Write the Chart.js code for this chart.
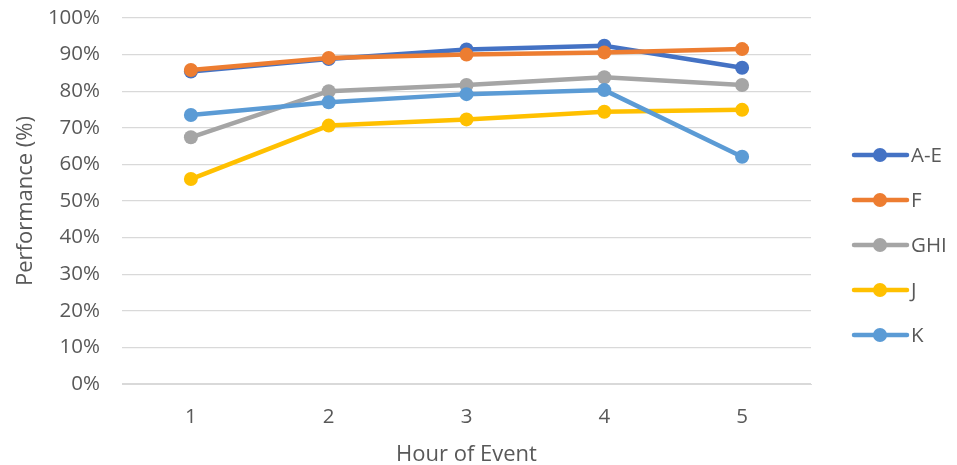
<!DOCTYPE html>
<html lang="en">
<head>
    <meta charset="UTF-8">
    <title>Performance by Hour</title>
    <script src="https://cdn.jsdelivr.net/npm/chart.js"></script>
    <style>
        html, body { margin: 0; padding: 0; background: #fff; }
        #wrap { width: 957px; height: 465px; }
    </style>
</head>
<body>
<div id="wrap"><canvas id="myChart" width="957" height="465"></canvas></div>
<script>
    const hours = ['1', '2', '3', '4', '5'];
    const seriesNames = ['A-E', 'F', 'GHI', 'J', 'K'];
    const seriesColors = ['#4472C4', '#ED7D31', '#A5A5A5', '#FFC000', '#5B9BD5'];
    const aeValues = [85.4, 88.8, 91.4, 92.4, 86.4];
    const fValues = [85.8, 89.1, 90.0, 90.6, 91.5];
    const ghiValues = [67.4, 80.0, 81.7, 83.8, 81.7];
    const jValues = [56.0, 70.6, 72.3, 74.4, 74.9];
    const kValues = [73.5, 77.0, 79.2, 80.3, 62.1];
    const allValues = [aeValues, fValues, ghiValues, jValues, kValues];

    const font = "'Open Sans', sans-serif";
    const textColor = '#595959';

    // legend with line + marker, like the office style one
    const sideLegend = {
        id: 'sideLegend',
        afterDraw(chart) {
            const ctx = chart.ctx;
            ctx.save();
            ctx.font = '20.5px ' + font;
            ctx.textBaseline = 'middle';
            seriesNames.forEach((name, i) => {
                const y = 155 + i * 45;
                ctx.strokeStyle = seriesColors[i];
                ctx.lineWidth = 4.5;
                ctx.lineCap = 'round';
                ctx.beginPath();
                ctx.moveTo(854, y);
                ctx.lineTo(907, y);
                ctx.stroke();
                ctx.fillStyle = seriesColors[i];
                ctx.beginPath();
                ctx.arc(880, y, 7, 0, Math.PI * 2);
                ctx.fill();
                ctx.fillStyle = textColor;
                ctx.fillText(name, 911, y + 1);
            });
            ctx.restore();
        }
    };

    const ctx = document.getElementById('myChart').getContext('2d');
    new Chart(ctx, {
        type: 'line',
        data: {
            labels: hours,
            datasets: seriesNames.map((name, i) => ({
                label: name,
                data: allValues[i],
                borderColor: seriesColors[i],
                backgroundColor: seriesColors[i],
                borderWidth: 4.5,
                pointRadius: 7,
                pointBorderWidth: 0,
                pointHoverRadius: 7,
                tension: 0,
                fill: false,
                order: seriesNames.length - i
            }))
        },
        options: {
            responsive: false,
            animation: false,
            layout: { padding: { top: 18, right: 146, left: 0, bottom: 0 } },
            plugins: {
                legend: { display: false },
                tooltip: { enabled: false }
            },
            scales: {
                x: {
                    offset: true,
                    grid: { display: false, drawTicks: false },
                    border: { display: true, color: '#d9d9d9', width: 1 },
                    ticks: { color: textColor, font: { family: font, size: 20.5 }, padding: 21 },
                    title: { display: true, text: 'Hour of Event', color: textColor, font: { family: font, size: 22 }, padding: { top: 0, bottom: -3 } },
                    afterFit(scale) { scale.height = 81; scale.paddingLeft = 0; scale.paddingRight = 0; }
                },
                y: {
                    min: 0,
                    max: 100,
                    ticks: {
                        stepSize: 10,
                        color: textColor,
                        font: { family: font, size: 20.5 },
                        padding: 22,
                        callback: v => v + '%'
                    },
                    grid: { color: '#d9d9d9', lineWidth: 1.3, drawTicks: false },
                    border: { display: false },
                    title: { display: true, text: 'Performance (%)', color: textColor, font: { family: font, size: 22 }, padding: { top: 13, bottom: 0 } },
                    afterFit(scale) { scale.width = 122; scale.paddingTop = 0; scale.paddingBottom = 0; }
                }
            }
        },
        plugins: [sideLegend]
    });
</script>
</body>
</html>
